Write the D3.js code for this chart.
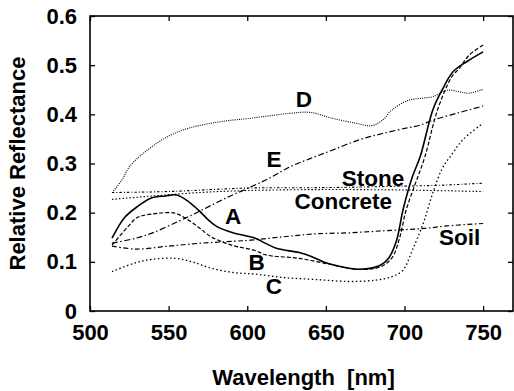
<!DOCTYPE html>
<html>
<head>
<meta charset="utf-8">
<script src="https://cdn.jsdelivr.net/npm/d3@7"></script>
<style>
  body { margin: 0; background: #fff; }
  svg text { font-family: "Liberation Sans", Arial, Helvetica, sans-serif; font-weight: bold; fill: #000; }
  .curve { fill: none; stroke: #000; }
</style>
</head>
<body>
<div id="chart"></div>
<script>
// [wavelength nm, relative reflectance]
var curveA = [[514,0.148],[522,0.190],[530,0.212],[539,0.230],[548,0.234],[555,0.236],[562,0.224],[569,0.205],[575,0.186],[581,0.171],[592,0.158],[605,0.148],[612,0.137],[619,0.127],[633,0.119],[640,0.112],[650,0.098],[660,0.090],[672,0.085],[684,0.092],[690,0.108],[695,0.144],[699,0.205],[705,0.273],[710,0.314],[718,0.409],[724,0.450],[731,0.487],[740,0.508],[750,0.527]];
var curveB = [[514,0.134],[524,0.171],[530,0.190],[539,0.197],[554,0.199],[562,0.186],[570,0.168],[577,0.151],[590,0.134],[605,0.123],[612,0.114],[633,0.107],[654,0.094],[669,0.085],[684,0.089],[692,0.108],[697,0.150],[701,0.205],[707,0.260],[713,0.314],[721,0.409],[730,0.476],[735,0.494],[741,0.520],[750,0.541]];
var curveC = [[514,0.080],[528,0.097],[539,0.105],[554,0.107],[565,0.100],[577,0.087],[592,0.078],[605,0.075],[623,0.068],[644,0.064],[665,0.060],[682,0.063],[692,0.070],[699,0.083],[705,0.124],[712,0.179],[718,0.240],[724,0.290],[730,0.318],[737,0.348],[750,0.382]];
var curveD = [[514,0.241],[520,0.265],[525,0.293],[534,0.321],[549,0.354],[563,0.372],[583,0.385],[602,0.392],[627,0.402],[640,0.404],[654,0.392],[669,0.382],[679,0.377],[686,0.388],[692,0.409],[703,0.429],[712,0.433],[718,0.436],[727,0.449],[735,0.446],[741,0.443],[750,0.451]];
var curveE = [[514,0.138],[529,0.148],[539,0.158],[556,0.182],[569,0.202],[586,0.229],[602,0.252],[614,0.270],[627,0.293],[640,0.310],[654,0.327],[671,0.348],[686,0.361],[701,0.372],[710,0.378],[718,0.388],[733,0.402],[750,0.417]];
var curveStone = [[514,0.241],[550,0.243],[600,0.250],[650,0.251],[700,0.254],[725,0.256],[750,0.260]];
var curveConcrete = [[514,0.227],[540,0.234],[570,0.241],[600,0.245],[650,0.247],[700,0.246],[750,0.243]];
var curveSoil = [[514,0.132],[529,0.126],[550,0.132],[571,0.138],[592,0.142],[602,0.144],[623,0.151],[644,0.157],[665,0.159],[686,0.163],[703,0.166],[713,0.168],[727,0.173],[750,0.178]];

var xTicks = [500, 550, 600, 650, 700, 750];
var yTicks = [0, 0.1, 0.2, 0.3, 0.4, 0.5, 0.6];

// labels sit at [wavelength, reflectance]
var labelNames = ["A", "B", "C", "D", "E", "Stone", "Concrete", "Soil"];
var labelSpots = [[591,0.193],[606,0.100],[617,0.052],[636,0.432],[617,0.310],[680,0.270],[661,0.223],[735,0.150]];

var W = 514, H = 391;
var x = d3.scaleLinear().domain([500, 769]).range([90, 513]);
var y = d3.scaleLinear().domain([0, 0.6]).range([311, 16]);

var svg = d3.select("#chart").append("svg")
    .attr("width", W)
    .attr("height", H);

var series = [
    { data: curveA, dash: null, width: 1.6, color: "#000" },
    { data: curveB, dash: "4,2", width: 1.2, color: "#000" },
    { data: curveC, dash: "1.5,2.5", width: 1.3, color: "#000" },
    { data: curveD, dash: "1,1.2", width: 1.1, color: "#555" },
    { data: curveE, dash: "6,2.5,1.5,2.5", width: 1.2, color: "#000" },
    { data: curveStone, dash: "2.5,2,1,2", width: 1.1, color: "#222" },
    { data: curveConcrete, dash: "1.5,2", width: 1.1, color: "#222" },
    { data: curveSoil, dash: "5,2.5,1.5,2.5", width: 1.2, color: "#000" }
];

var line = d3.line()
    .x(function(d) { return x(d[0]); })
    .y(function(d) { return y(d[1]); })
    .curve(d3.curveCatmullRom.alpha(0.5));

svg.append("g").selectAll("path")
    .data(series)
  .enter().append("path")
    .attr("class", "curve")
    .attr("d", function(d) { return line(d.data); })
    .attr("stroke", function(d) { return d.color; })
    .attr("stroke-width", function(d) { return d.width; })
    .attr("stroke-dasharray", function(d) { return d.dash; });

// frame with inward ticks on all four sides
var x0 = x.range()[0], x1 = x.range()[1], y0 = y.range()[0], y1 = y.range()[1];
svg.append("rect")
    .attr("x", x0).attr("y", y1)
    .attr("width", x1 - x0).attr("height", y0 - y1)
    .attr("fill", "none").attr("stroke", "#000").attr("stroke-width", 1.6);

var TICK = 5;
svg.append("g").attr("transform", "translate(0," + y0 + ")")
    .call(d3.axisBottom(x).tickValues(xTicks).tickSize(-TICK).tickSizeOuter(0).tickFormat(d3.format("d")).tickPadding(TICK + 8))
    .call(styleAxis);
svg.append("g").attr("transform", "translate(0," + y1 + ")")
    .call(d3.axisTop(x).tickValues(xTicks).tickSize(-TICK).tickSizeOuter(0).tickFormat(""))
    .call(styleAxis);
svg.append("g").attr("transform", "translate(" + x0 + ",0)")
    .call(d3.axisLeft(y).tickValues(yTicks).tickSize(-TICK).tickSizeOuter(0).tickFormat(function(d) { return d === 0 ? "0" : d3.format(".1f")(d); }).tickPadding(TICK + 8))
    .call(styleAxis);
svg.append("g").attr("transform", "translate(" + x1 + ",0)")
    .call(d3.axisRight(y).tickValues(yTicks).tickSize(-TICK).tickSizeOuter(0).tickFormat(""))
    .call(styleAxis);

function styleAxis(g) {
    g.select(".domain").remove();
    g.selectAll(".tick line").attr("stroke", "#000").attr("stroke-width", 1.3);
    g.selectAll(".tick text")
        .attr("font-size", "22px")
        .attr("font-family", null)
        .attr("fill", "#000");
}

svg.append("text")
    .attr("x", (x0 + x1) / 2 + 2)
    .attr("y", 385)
    .attr("text-anchor", "middle")
    .attr("font-size", "22px")
    .style("white-space", "pre")
    .text("Wavelength  [nm]");

svg.append("text")
    .attr("transform", "translate(25," + ((y0 + y1) / 2) + ") rotate(-90)")
    .attr("text-anchor", "middle")
    .attr("font-size", "22px")
    .text("Relative Reflectance");

svg.append("g").selectAll("text")
    .data(labelNames)
  .enter().append("text")
    .attr("x", function(d, i) { return x(labelSpots[i][0]); })
    .attr("y", function(d, i) { return y(labelSpots[i][1]); })
    .attr("text-anchor", "middle")
    .attr("dy", "0.36em")
    .attr("font-size", "22.5px")
    .text(String);
</script>
</body>
</html>
